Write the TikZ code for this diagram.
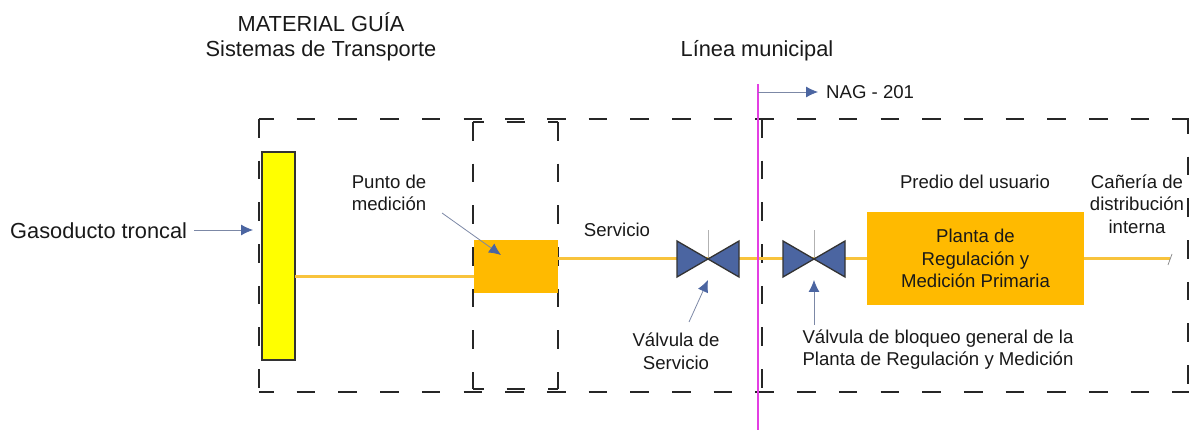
\documentclass[tikz,border=0pt]{standalone}
\usepackage{fontspec}
\setmainfont{Liberation Sans}
\usetikzlibrary{arrows.meta}
\definecolor{gasyellow}{HTML}{FFFF00}
\definecolor{boxorange}{HTML}{FFBA00}
\definecolor{pipeorange}{HTML}{F8C33C}
\definecolor{valveblue}{HTML}{4B65A1}
\definecolor{leadgray}{HTML}{7C88A6}
\definecolor{linepink}{HTML}{E33FE3}
\tikzset{
  dashline/.style={draw=black!85,line width=2.2pt,dash pattern=on 18.6pt off 23.1pt},
  pipe/.style={draw=pipeorange,line width=3pt},
  valve/.style={draw=black!80,fill=valveblue,line width=1.3pt,line join=miter},
  lead/.style={draw=leadgray,line width=0.8pt,-{Latex[length=12pt,width=11pt,fill=valveblue,color=valveblue]}},
  plantbox/.style={fill=boxorange,inner sep=0pt},
  lbl/.style={font=\fontsize{18.6}{22.7}\selectfont,align=center,text=black!90,inner sep=0pt},
  biglbl/.style={font=\fontsize{21.8}{25}\selectfont,align=center,text=black!90,inner sep=0pt}
}
\begin{document}
\begin{tikzpicture}[x=1pt,y=-1pt]
  \useasboundingbox (0,0) rectangle (1189,430);

  % outer dashed limits
  \draw[dashline,dash phase=4pt] (259,119) -- (1189,119);
  \draw[dashline,dash phase=4pt] (259,392) -- (1189,392);
  \draw[dashline] (259,119) -- (259,392);
  \draw[dashline] (762,119) -- (762,392);
  \draw[dashline,dash phase=4pt] (1188,119) -- (1188,392);
  % metering dashed box
  \draw[dashline,dash phase=8pt] (473,122) -- (558,122);
  \draw[dashline,dash phase=8pt] (473,389) -- (558,389);
  \draw[dashline] (473,122) -- (473,389);
  \draw[dashline] (558,122) -- (558,389);

  \node[draw=black!80,fill=gasyellow,line width=1.2pt,minimum width=33pt,minimum height=208pt,inner sep=0pt] (troncal) at (278.5,256) {};
  \node[plantbox,minimum width=84pt,minimum height=53pt] (medidor) at (516,266.5) {};
  \node[plantbox,minimum width=217pt,minimum height=93pt,lbl] (planta) at (975.5,258.5) {Planta de\\Regulación y\\Medición Primaria};

  \coordinate (tapin) at (295,276.5);
  \coordinate (tapout) at (474,276.5);
  \coordinate (valvS) at (708,259);
  \coordinate (valvB) at (814,259);
  \coordinate (pipeend) at (1170,258.5);

  \draw[pipe] (tapin) -- (tapout);
  \draw[pipe] (medidor.east |- planta.west) -- (planta.west);
  \draw[pipe] (planta.east) -- (pipeend);
  \draw[draw=gray,line width=0.7pt] (1172,254) -- (1168,265);

  % valves with stems
  \foreach \v in {valvS,valvB}{
    \draw[draw=black!30,line width=0.8pt] (\v) -- ++(0,-29);
    \draw[valve] (\v) -- ++(-31,-18) -- ++(0,36) -- cycle;
    \draw[valve] (\v) -- ++(31,-18) -- ++(0,36) -- cycle;
  }

  % municipal line
  \coordinate (lineatop) at (758,84);
  \coordinate (lineabot) at (758,430);
  \draw[draw=linepink,line width=2.4pt] (lineatop) -- (lineabot);

  \node[biglbl] (guia) at (321,36.5) {MATERIAL GUÍA\\Sistemas de Transporte};
  \node[biglbl] (municipal) at (757,51) {Línea municipal};
  \node[lbl,anchor=west] (nag) at (826,92) {NAG - 201};
  \node[biglbl,anchor=west] (gasoducto) at (10,231) {Gasoducto troncal};
  \node[lbl] (punto) at (389,193) {Punto de\\medición};
  \node[lbl] (servicio) at (617,230) {Servicio};
  \node[lbl] (predio) at (975,182) {Predio del usuario};
  \node[lbl] (caneria) at (1137,204) {Cañería de\\distribución\\interna};
  \node[lbl] (valvtxtS) at (676,351) {Válvula de\\Servicio};
  \node[lbl] (valvtxtB) at (938,349.5) {Válvula de bloqueo general de la\\Planta de Regulación y Medición};

  \coordinate (nagfrom) at (758,92);
  \coordinate (nagto) at (818,92);
  \coordinate (puntofrom) at (442,213);
  \coordinate (puntoto) at (501,255);
  \coordinate (valvSfrom) at (689,322);
  \coordinate (valvSto) at (708,280);
  \coordinate (valvBfrom) at (814,325);
  \coordinate (valvBto) at (814,280);
  \coordinate (gasfrom) at (194,230);
  \coordinate (gasto) at (253,230);

  \draw[lead] (nagfrom) -- (nagto);
  \draw[lead] (puntofrom) -- (puntoto);
  \draw[lead] (valvSfrom) -- (valvSto);
  \draw[lead] (valvBfrom) -- (valvBto);
  \draw[lead] (gasfrom) -- (gasto);
\end{tikzpicture}
\end{document}
